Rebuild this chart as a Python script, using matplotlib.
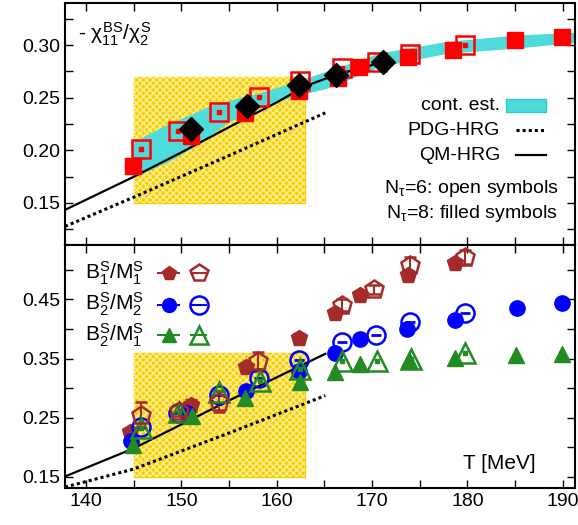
import matplotlib
matplotlib.use("Agg")
import matplotlib.pyplot as plt
from matplotlib.patches import Rectangle
from matplotlib.ticker import MultipleLocator, FixedLocator

plt.rcParams['font.family'] = ['Liberation Sans', 'DejaVu Sans']
plt.rcParams['mathtext.fontset'] = 'custom'
plt.rcParams['mathtext.rm'] = 'Liberation Sans'
plt.rcParams['mathtext.it'] = 'Liberation Sans'
plt.rcParams['mathtext.bf'] = 'Liberation Sans:bold'

# ---- top panel: -chi11^BS / chi2^S ----
band_T = [144.9, 148.8, 151.2, 153.0, 154.8, 157.2, 158.3, 161.4, 163.2, 165.3, 170.8, 177.8, 184.8, 191.9]
band_lo = [0.174, 0.190, 0.203, 0.214, 0.226, 0.237, 0.241, 0.250, 0.2544, 0.259, 0.2795, 0.2921, 0.2969, 0.3031]
band_hi = [0.208, 0.226, 0.235, 0.2425, 0.247, 0.2525, 0.255, 0.2635, 0.269, 0.2755, 0.2925, 0.3035, 0.3094, 0.3125]

sq8_T = [144.9, 151.05, 156.7, 162.3, 166.4, 168.6, 173.8, 178.5, 185.0, 189.9]
sq8_v = [0.1852, 0.2135, 0.2356, 0.256, 0.2686, 0.2795, 0.289, 0.2953, 0.3047, 0.3078]

sq6_T = [145.8, 149.7, 153.9, 158.1, 162.4, 166.8, 170.5, 174.0, 179.7]
sq6_v = [0.201, 0.2182, 0.2365, 0.2507, 0.2654, 0.278, 0.2837, 0.2912, 0.300]

dia_T = [151.05, 156.9, 162.3, 166.2, 171.1]
dia_v = [0.2198, 0.2418, 0.2623, 0.2717, 0.2837]

qm_top_T = [137.8, 145, 150, 155, 160, 163, 166.2, 171.1]
qm_top_v = [0.1434, 0.1748, 0.198, 0.222, 0.2455, 0.261, 0.2717, 0.2837]
pdg_top_T = [137.8, 145, 155, 165.1]
pdg_top_v = [0.1277, 0.1554, 0.195, 0.2356]

# ---- bottom panel: B/M ratios ----
b1m1_8_T = [144.6, 151.05, 156.8, 162.3, 166.1, 168.7, 173.8, 178.7]
b1m1_8_v = [0.2265, 0.272, 0.336, 0.385, 0.4265, 0.4574, 0.4912, 0.512]
b1m1_8_e = [0.006, 0.010, 0.006, 0.008, 0.008, 0.006, 0.008, 0.004]
b1m1_6_T = [145.8, 149.8, 153.9, 158.0, 166.8, 170.2, 174.0, 179.7]
b1m1_6_v = [0.2547, 0.262, 0.277, 0.345, 0.4405, 0.467, 0.508, 0.522]
b1m1_6_e = [0.022, 0.010, 0.018, 0.016, 0.010, 0.008, 0.014, 0.012]

b2m2_8_T = [144.7, 150.6, 156.8, 162.3, 166.1, 168.7, 173.7, 178.7, 185.2, 189.9]
b2m2_8_v = [0.2097, 0.258, 0.2953, 0.329, 0.360, 0.3826, 0.3995, 0.4152, 0.435, 0.4434]
b2m2_6_T = [145.8, 149.7, 153.9, 158.1, 162.3, 166.8, 170.4, 174.0, 179.8]
b2m2_6_v = [0.235, 0.2576, 0.2885, 0.3170, 0.3476, 0.3786, 0.390, 0.4125, 0.4265]

b2m1_8_T = [144.9, 151.1, 156.7, 162.4, 166.1, 168.7, 173.9, 178.7, 185.1, 189.9]
b2m1_8_v = [0.204, 0.252, 0.283, 0.310, 0.3279, 0.341, 0.3476, 0.3505, 0.356, 0.3578]
b2m1_6_T = [145.8, 149.8, 153.9, 158.2, 162.4, 166.8, 170.5, 174.1, 179.8]
b2m1_6_v = [0.232, 0.259, 0.293, 0.312, 0.333, 0.345, 0.345, 0.350, 0.360]

qm_bot_T = [137.8, 145, 155, 165.1]
qm_bot_v = [0.1505, 0.198, 0.279, 0.358]
pdg_bot_T = [137.8, 145, 155, 165.1]
pdg_bot_v = [0.1326, 0.163, 0.224, 0.2873]

band_color = '#4fdbdb'
gold = '#f7cf00'
brown = '#a52a2a'
green = '#228b22'


def yellow_box(ax, x0, x1, y0, y1):
    ax.add_patch(Rectangle((x0, y0), x1 - x0, y1 - y0, facecolor=gold,
                           edgecolor=gold, lw=1, zorder=1))
    ax.add_patch(Rectangle((x0, y0), x1 - x0, y1 - y0, facecolor='none',
                           edgecolor='#ffee99', hatch='xxxxx', lw=0, zorder=1.1))


def style_axis(ax):
    ax.set_xlim(137.8, 191.3)
    ax.xaxis.set_major_locator(MultipleLocator(10))
    ax.xaxis.set_minor_locator(MultipleLocator(5))
    ax.tick_params(which='both', direction='in', top=True, right=True,
                   length=6, width=1, labelsize=14)
    for s in ax.spines.values():
        s.set_linewidth(1.5)


plt.rcParams['hatch.linewidth'] = 1.0

fig = plt.figure(figsize=(5.78, 5.25), dpi=100)
ax1 = fig.add_axes([0.1125, 0.5333, 0.8825, 0.461])
ax2 = fig.add_axes([0.1125, 0.0705, 0.8825, 0.4628])

# top panel
yellow_box(ax1, 145, 163, 0.15, 0.27)
ax1.fill_between(band_T, band_lo, band_hi, color=band_color, lw=0, zorder=2)
ax1.plot(pdg_top_T, pdg_top_v, color='black', lw=2.2, ls=(0, (1, 1)), zorder=3)
ax1.plot(qm_top_T, qm_top_v, color='black', lw=1.6, zorder=3)
ax1.plot(sq6_T, sq6_v, ls='none', marker='s', ms=13, mfc='none', mec='red', mew=1.8, zorder=4)
ax1.plot(sq6_T, sq6_v, ls='none', marker='s', ms=3, color='red', zorder=4)
ax1.plot(sq8_T, sq8_v, ls='none', marker='s', ms=11.5, color='red', zorder=5)
ax1.plot(dia_T, dia_v, ls='none', marker='D', ms=12.5, color='black', zorder=6)

ax1.set_ylim(0.11, 0.34)
ax1.yaxis.set_major_locator(FixedLocator([0.15, 0.20, 0.25, 0.30]))
ax1.yaxis.set_minor_locator(FixedLocator([0.125, 0.175, 0.225, 0.275, 0.325]))
ax1.yaxis.set_major_formatter(matplotlib.ticker.FormatStrFormatter('%.2f'))
style_axis(ax1)
ax1.tick_params(labelbottom=False)

ax1.text(0.025, 0.87, r'- $\chi^{BS}_{11}/\chi^{S}_{2}$', transform=ax1.transAxes,
         fontsize=15, va='center', ha='left')

# top legend
tx = 0.853
ax1.text(tx, 0.575, 'cont. est.', transform=ax1.transAxes, fontsize=14, ha='right', va='center')
ax1.add_patch(Rectangle((0.865, 0.55), 0.078, 0.052, transform=ax1.transAxes,
                        facecolor=band_color, edgecolor='#30c8c8', lw=1, zorder=5))
ax1.text(tx, 0.475, 'PDG-HRG', transform=ax1.transAxes, fontsize=14, ha='right', va='center')
ax1.plot([0.885, 0.943], [0.475, 0.475], transform=ax1.transAxes, color='black',
         lw=2.2, ls=(0, (1, 1)))
ax1.text(tx, 0.37, 'QM-HRG', transform=ax1.transAxes, fontsize=14, ha='right', va='center')
ax1.plot([0.885, 0.943], [0.37, 0.37], transform=ax1.transAxes, color='black', lw=1.6)
ax1.text(0.968, 0.235, r'N$_\tau$=6: open symbols', transform=ax1.transAxes,
         fontsize=14, ha='right', va='center')
ax1.text(0.966, 0.13, r'N$_\tau$=8: filled symbols', transform=ax1.transAxes,
         fontsize=14, ha='right', va='center')

# bottom panel
yellow_box(ax2, 145, 163, 0.15, 0.36)
ax2.plot(pdg_bot_T, pdg_bot_v, color='black', lw=2.2, ls=(0, (1, 1)), zorder=3)
ax2.plot(qm_bot_T, qm_bot_v, color='black', lw=1.6, zorder=3)

ax2.errorbar(b1m1_8_T, b1m1_8_v, yerr=b1m1_8_e, fmt='p', ms=12, color=brown,
             ecolor=brown, capsize=4, elinewidth=1.5, zorder=4)
ax2.errorbar(b2m2_8_T, b2m2_8_v, fmt='o', ms=11, color='blue', zorder=4)
ax2.errorbar(b2m1_8_T, b2m1_8_v, fmt='^', ms=12, color=green, zorder=4)
ax2.errorbar(b1m1_6_T, b1m1_6_v, yerr=b1m1_6_e, fmt='p', ms=13.5, mfc='none', mec=brown,
             mew=1.8, ecolor=brown, capsize=4, elinewidth=1.5, zorder=5)
ax2.plot(b2m2_6_T, b2m2_6_v, ls='none', marker='o', ms=13, mfc='none', mec='blue', mew=1.8, zorder=5)
ax2.plot(b2m2_6_T, b2m2_6_v, ls='none', marker='_', ms=7, color='blue', mew=2, zorder=5)
ax2.plot(b2m1_6_T, b2m1_6_v, ls='none', marker='^', ms=14, mfc='none', mec=green, mew=1.8, zorder=5)
ax2.plot(b2m1_6_T, b2m1_6_v, ls='none', marker='s', ms=3, color=green, zorder=5)

ax2.set_ylim(0.131, 0.542)
ax2.yaxis.set_major_locator(FixedLocator([0.15, 0.25, 0.35, 0.45]))
ax2.yaxis.set_minor_locator(FixedLocator([0.20, 0.30, 0.40, 0.50]))
ax2.yaxis.set_major_formatter(matplotlib.ticker.FormatStrFormatter('%.2f'))
style_axis(ax2)

# bottom legend
legend_rows = [
    (r'B$^S_1$/M$^S_1$', 'p', brown, 0.885),
    (r'B$^S_2$/M$^S_2$', 'o', 'blue', 0.755),
    (r'B$^S_2$/M$^S_1$', '^', green, 0.63),
]
for label, mk, col, yy in legend_rows:
    ax2.text(0.04, yy, label, transform=ax2.transAxes, fontsize=15, ha='left', va='center')
    ax2.plot([0.203], [yy], transform=ax2.transAxes, marker=mk, ms=10, color=col, ls='none')
    ax2.plot([0.183, 0.223], [yy, yy], transform=ax2.transAxes, color=col, lw=1.5)
    ax2.plot([0.262], [yy], transform=ax2.transAxes, marker=mk, ms=13, mfc='none',
             mec=col, mew=1.8, ls='none')
    ax2.plot([0.247, 0.277], [yy, yy], transform=ax2.transAxes, color=col, lw=1.5)

ax2.text(0.78, 0.1, 'T [MeV]', transform=ax2.transAxes, fontsize=15, ha='left', va='center')

fig.savefig('out.png', dpi=100)
